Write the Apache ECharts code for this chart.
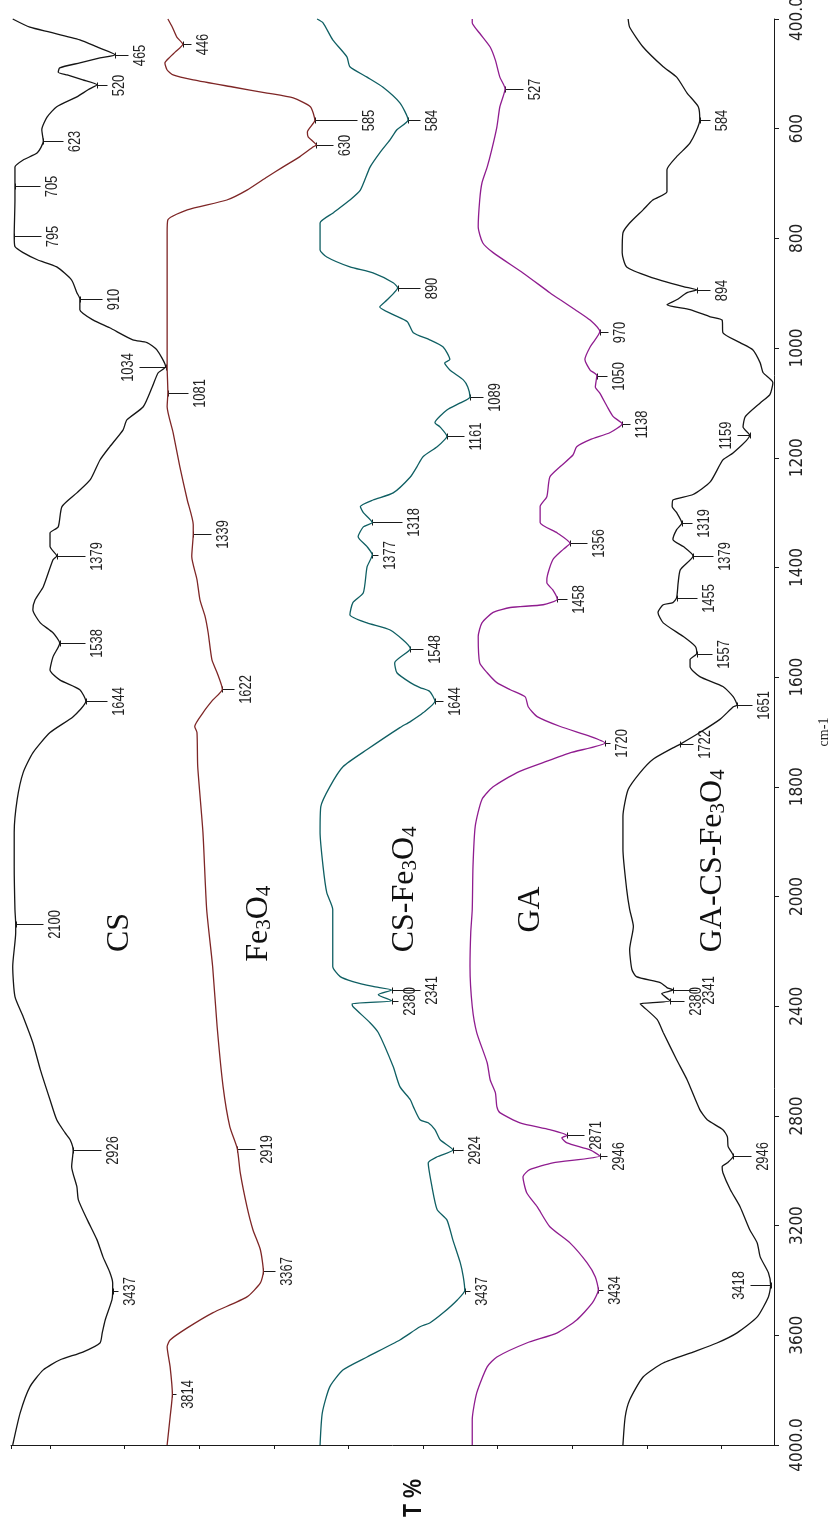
<!DOCTYPE html>
<html>
<head>
<meta charset="utf-8">
<script src="https://cdn.jsdelivr.net/npm/echarts@6/dist/echarts.min.js"></script>
<style>
  html, body { margin: 0; padding: 0; background: #fff; }
  #chart { width: 832px; height: 1524px; }
</style>
</head>
<body>
<div id="chart"></div>
<script>
// FTIR spectra: [wavenumber (cm-1), transmittance (%, stacked offsets)]
const csSpectrum = [[400,105.0],[415,102.7],[424,100.0],[438,96.0],[451,93.7],[465,91.3],[471,93.3],[480,96.0],[489,98.7],[497,98.9],[502,97.7],[511,95.6],[520,93.7],[529,94.9],[542,96.4],[560,99.1],[579,100.4],[602,101.1],[623,100.9],[644,101.7],[657,103.6],[670,104.7],[705,104.7],[730,104.7],[795,104.8],[815,104.7],[826,103.6],[839,101.7],[852,99.1],[876,97.1],[899,96.4],[910,96.0],[930,96.0],[949,94.2],[963,92.0],[985,88.9],[990,87.0],[1003,85.7],[1034,84.5],[1045,85.5],[1071,86.3],[1107,87.5],[1131,89.7],[1149,90.2],[1180,92.0],[1204,93.3],[1240,94.6],[1264,96.4],[1289,98.4],[1326,98.9],[1337,100.0],[1362,100.0],[1379,99.1],[1386,99.6],[1435,100.9],[1459,102.0],[1477,102.3],[1501,101.3],[1519,99.6],[1538,98.7],[1563,99.6],[1587,100.0],[1605,98.7],[1623,96.0],[1644,95.2],[1672,96.9],[1701,100.0],[1738,102.3],[1774,103.6],[1823,104.4],[1883,104.8],[1945,104.8],[2047,104.7],[2100,104.6],[2131,104.6],[2255,105.0],[2365,104.7],[2438,103.6],[2533,102.3],[2631,101.3],[2741,100.0],[2814,99.1],[2861,98.0],[2887,97.3],[2926,96.9],[2985,97.1],[3058,96.4],[3106,96.2],[3179,95.0],[3252,93.7],[3314,92.9],[3369,92.0],[3409,91.6],[3437,91.6],[3471,91.7],[3544,92.6],[3591,93.0],[3628,93.3],[3661,95.6],[3690,98.7],[3726,100.9],[3788,102.7],[3883,104.0],[4000,105.0]];

const fe3o4Spectrum = [[400,84.2],[415,83.6],[433,83.0],[446,82.2],[460,83.2],[469,83.9],[480,84.6],[493,84.3],[502,83.5],[511,80.8],[524,75.5],[535,70.9],[544,67.4],[560,65.1],[585,64.5],[590,64.7],[606,65.5],[615,65.4],[630,64.3],[633,64.7],[651,66.5],[670,68.8],[688,70.9],[712,73.6],[730,76.3],[748,81.6],[766,84.2],[790,84.3],[912,84.3],[972,84.3],[1034,84.3],[1081,84.2],[1107,84.3],[1154,83.5],[1216,82.6],[1277,81.6],[1322,80.8],[1339,80.8],[1380,81.0],[1422,80.3],[1459,79.9],[1490,79.2],[1519,78.8],[1568,78.3],[1592,77.6],[1622,76.9],[1642,78.2],[1665,79.5],[1690,80.6],[1701,80.3],[1763,80.2],[1883,79.5],[2047,79.0],[2255,78.2],[2474,77.6],[2693,76.8],[2839,75.9],[2919,74.9],[3007,74.5],[3131,73.6],[3215,72.8],[3288,71.8],[3367,71.4],[3409,71.8],[3460,73.6],[3518,78.2],[3573,81.6],[3617,83.9],[3642,84.3],[3715,83.9],[3814,83.6],[3898,83.9],[4000,84.3]];

const csFe3o4Spectrum = [[400,64.2],[407,63.4],[438,62.1],[469,60.2],[487,59.8],[506,57.5],[524,55.4],[553,53.1],[584,52.0],[602,53.5],[620,54.4],[644,55.8],[670,57.1],[712,58.4],[730,59.8],[754,62.1],[772,63.8],[821,63.8],[834,62.9],[852,59.8],[863,56.7],[881,54.0],[890,53.4],[912,54.8],[925,55.8],[939,54.0],[952,52.1],[972,51.3],[985,49.1],[998,47.3],[1021,46.4],[1027,47.1],[1040,46.4],[1058,44.6],[1071,44.0],[1089,43.7],[1100,45.0],[1113,46.8],[1136,48.4],[1144,47.7],[1161,46.8],[1167,47.1],[1180,48.1],[1198,50.0],[1216,50.8],[1235,51.7],[1264,54.0],[1277,56.7],[1289,58.4],[1300,58.0],[1318,56.8],[1326,58.0],[1344,58.7],[1362,57.5],[1377,56.8],[1399,57.5],[1446,58.0],[1464,59.4],[1486,59.8],[1501,57.5],[1514,54.4],[1548,51.7],[1574,53.8],[1592,53.5],[1610,51.7],[1619,50.4],[1626,49.1],[1644,48.4],[1665,50.0],[1681,51.7],[1692,53.1],[1732,57.5],[1763,60.7],[1800,62.5],[1836,63.7],[1883,63.8],[1945,63.4],[1993,62.9],[2047,62.1],[2131,62.1],[2255,62.1],[2292,61.1],[2310,59.4],[2328,56.7],[2341,54.2],[2358,56.0],[2380,54.2],[2391,59.5],[2401,59.4],[2460,57.1],[2496,56.0],[2620,54.0],[2693,53.1],[2741,51.7],[2766,51.3],[2814,50.4],[2825,49.3],[2850,48.4],[2887,47.7],[2924,46.0],[2949,48.1],[2971,49.3],[3058,48.8],[3142,48.1],[3179,46.8],[3252,46.0],[3336,45.0],[3387,44.6],[3437,44.4],[3471,45.4],[3518,47.3],[3555,49.1],[3569,50.4],[3617,53.1],[3679,57.5],[3726,60.7],[3788,62.5],[3883,63.5],[4000,63.8]];

const gaSpectrum = [[400,43.4],[407,43.4],[426,42.4],[451,41.0],[475,40.3],[506,39.7],[527,39.0],[560,39.7],[597,40.1],[639,40.8],[670,41.4],[699,42.1],[730,42.4],[779,42.6],[808,42.0],[826,40.6],[863,36.6],[899,33.0],[912,31.6],[930,29.6],[949,27.6],[970,26.3],[998,27.6],[1021,28.3],[1040,27.6],[1050,26.7],[1071,26.9],[1082,26.3],[1107,25.3],[1125,24.5],[1138,23.3],[1154,24.9],[1167,27.6],[1180,29.4],[1195,29.9],[1216,31.6],[1235,33.0],[1271,33.4],[1289,34.3],[1318,34.3],[1337,32.0],[1356,30.3],[1367,31.2],[1386,32.6],[1422,33.4],[1428,33.4],[1441,32.6],[1458,32.0],[1468,33.9],[1473,38.3],[1482,40.6],[1501,42.1],[1526,42.6],[1574,42.4],[1592,41.4],[1610,40.1],[1623,38.3],[1636,36.3],[1654,35.9],[1672,34.7],[1690,31.6],[1708,27.6],[1720,25.6],[1738,30.3],[1756,33.9],[1774,37.4],[1800,40.6],[1823,42.1],[1872,43.0],[1945,43.3],[2047,43.4],[2131,43.6],[2255,43.7],[2401,43.4],[2496,42.8],[2606,41.4],[2668,41.0],[2715,40.3],[2766,40.1],[2788,39.7],[2825,37.0],[2850,33.0],[2871,30.7],[2880,31.4],[2898,30.7],[2924,27.6],[2946,26.3],[2971,32.6],[2996,35.7],[3022,36.6],[3080,36.1],[3131,34.7],[3204,33.0],[3263,30.3],[3336,28.0],[3387,26.9],[3434,26.5],[3482,27.3],[3544,29.4],[3591,32.0],[3628,36.1],[3679,40.1],[3715,41.4],[3810,42.8],[3908,43.4],[4000,43.4]];

const gaCsFe3o4Spectrum = [[400,22.5],[415,22.3],[451,20.5],[487,17.8],[506,16.0],[535,14.6],[560,13.1],[584,12.9],[626,14.2],[651,16.0],[675,17.3],[715,17.3],[730,19.2],[748,20.5],[772,22.3],[790,23.2],[826,23.3],[852,22.7],[870,19.6],[888,15.1],[894,13.3],[899,14.6],[912,16.0],[921,17.3],[930,14.2],[943,11.5],[949,9.9],[972,9.8],[990,7.5],[1003,5.8],[1027,4.8],[1045,4.4],[1063,3.1],[1085,3.5],[1100,4.8],[1125,6.8],[1144,7.1],[1159,6.2],[1191,8.4],[1204,9.8],[1244,11.5],[1267,13.8],[1277,16.5],[1289,16.6],[1300,16.0],[1319,15.3],[1331,16.0],[1349,16.5],[1362,15.1],[1379,13.8],[1404,15.5],[1428,15.8],[1455,16.0],[1464,16.5],[1468,17.8],[1482,18.5],[1501,17.8],[1526,15.1],[1544,13.5],[1557,13.3],[1568,14.2],[1581,14.2],[1599,12.9],[1617,9.8],[1636,8.4],[1651,7.9],[1654,8.4],[1677,10.2],[1701,12.9],[1722,15.5],[1729,16.5],[1750,19.2],[1774,20.9],[1805,22.5],[1854,23.2],[1914,23.2],[1987,22.7],[2047,22.3],[2109,21.8],[2193,22.3],[2266,22.0],[2292,21.4],[2314,18.2],[2332,17.3],[2341,16.5],[2354,18.0],[2380,16.9],[2391,20.9],[2401,20.5],[2449,18.6],[2496,17.8],[2595,16.0],[2668,14.6],[2777,12.9],[2814,11.9],[2850,9.8],[2876,9.2],[2912,9.1],[2946,8.4],[2971,9.2],[2985,9.9],[3007,9.8],[3069,8.8],[3131,7.5],[3215,6.2],[3263,5.2],[3314,4.8],[3372,3.7],[3418,3.4],[3460,3.7],[3533,5.2],[3591,7.9],[3628,10.6],[3661,13.8],[3701,17.8],[3752,20.5],[3836,22.3],[3898,22.9],[4000,23.2]];

// Annotated band positions (cm-1)
const csPeaks = [465, 520, 623, 705, 795, 910, 1034, 1379, 1538, 1644, 2100, 2926, 3437];
const fe3o4Peaks = [446, 585, 630, 1081, 1339, 1622, 2919, 3367, 3814];
const csFe3o4Peaks = [584, 890, 1089, 1161, 1318, 1377, 1548, 1644, 2341, 2380, 2924, 3437];
const gaPeaks = [527, 970, 1050, 1138, 1356, 1458, 1720, 2871, 2946, 3434];
const gaCsFe3o4Peaks = [584, 894, 1159, 1319, 1379, 1455, 1557, 1651, 1722, 2341, 2380, 2946, 3418];

// Wavenumber axis tick labels (cm-1)
const wavenumberTicks = [400, 600, 800, 1000, 1200, 1400, 1600, 1800, 2000, 2400, 2800, 3200, 3600, 4000];
// Transmittance axis tick marks (unlabelled)
const transmittanceTicks = [10, 20, 30, 40, 50, 60, 70, 80, 90, 100];

// ---- layout / style settings ----
const T_MIN = 2.95, T_MAX = 105.23;

// The region above 2000 cm-1 is drawn at half scale.
const toAxis = w => (w <= 2000 ? w : 2000 + (w - 2000) / 2);
const fromAxis = u => (u <= 2000 ? u : 2000 + (u - 2000) * 2);

const samples = [
  { key: 'cs',     data: csSpectrum,        peaks: csPeaks,        color: '#151515' },
  { key: 'fe',     data: fe3o4Spectrum,     peaks: fe3o4Peaks,     color: '#7e2626' },
  { key: 'csfe',   data: csFe3o4Spectrum,   peaks: csFe3o4Peaks,   color: '#0f5f63' },
  { key: 'ga',     data: gaSpectrum,        peaks: gaPeaks,        color: '#8f1c8f' },
  { key: 'gacsfe', data: gaCsFe3o4Spectrum, peaks: gaCsFe3o4Peaks, color: '#151515' }
];

// Leader length in px for each band label (negative: label on the left side)
const leaderLen = {
  cs:     {465: 13, 520: 10, 623: 20, 705: 25, 795: 27, 910: 22, 1034: -27, 1379: 28, 1538: 25, 1644: 21, 2100: 27, 2926: 28, 3437: 5},
  fe:     {446: 8, 585: 42, 630: 17, 1081: 20, 1339: 18, 1622: 12, 2919: 18, 3367: 12, 3814: 4},
  csfe:   {584: 12, 890: 22, 1089: 13, 1161: 17, 1318: 30, 1377: 6, 1548: 13, 1644: 8, 2341: 28, 2380: 6, 2924: 10, 3437: 5},
  ga:     {527: 18, 970: 8, 1050: 10, 1138: 8, 1356: 17, 1458: 10, 1720: 5, 2871: 17, 2946: 7, 3434: 5},
  gacsfe: {584: 10, 894: 13, 1159: -13, 1319: 10, 1379: 20, 1455: 20, 1557: 15, 1651: 15, 1722: 13, 2341: 24, 2380: 14, 2946: 18, 3418: -21}
};

// Sample names, anchored at [transmittance, wavenumber]
const nameLabels = [
  { text: '{n|CS}', at: [91.0, 2131] },
  { text: '{n|Fe}{s|3}{n|O}{s|4}', at: [72.3, 2099] },
  { text: '{n|CS-Fe}{s|3}{n|O}{s|4}', at: [52.7, 1987] },
  { text: '{n|GA}', at: [35.8, 2047] },
  { text: '{n|GA-CS-Fe}{s|3}{n|O}{s|4}', at: [11.4, 1935] }
];

function transmittanceAt(spec, w) {
  for (let i = 1; i < spec.length; i++) {
    const [w0, t0] = spec[i - 1], [w1, t1] = spec[i];
    if (w >= w0 && w <= w1) {
      return w1 === w0 ? t0 : t0 + (t1 - t0) * (w - w0) / (w1 - w0);
    }
  }
  return spec[spec.length - 1][1];
}

const markers = [];
samples.forEach(s => {
  s.peaks.forEach(wn => {
    markers.push({ wn, t: transmittanceAt(s.data, wn), len: (leaderLen[s.key] || {})[wn] || 12 });
  });
});

const labelFont = '"Liberation Sans", Arial, sans-serif';
const axisFont = '"Liberation Sans Narrow", "DejaVu Sans Condensed", "Liberation Sans", sans-serif';

const chart = echarts.init(document.getElementById('chart'));

const option = {
  backgroundColor: '#ffffff',
  animation: false,
  grid: { left: 11, right: 58, top: 19, bottom: 79, containLabel: false, outerBoundsMode: 'none' },
  xAxis: {
    type: 'value',
    inverse: true,
    min: T_MIN,
    max: T_MAX,
    axisLine: { show: true, onZero: false, lineStyle: { color: '#1a1a1a', width: 1 } },
    axisTick: { show: true, length: 4, inside: false, customValues: [T_MAX].concat(transmittanceTicks), lineStyle: { color: '#1a1a1a' } },
    axisLabel: { show: false },
    splitLine: { show: false }
  },
  yAxis: {
    type: 'value',
    position: 'right',
    inverse: true,
    min: toAxis(400),
    max: toAxis(4000),
    interval: 200,
    name: 'cm-1',
    nameLocation: 'middle',
    nameRotate: 90,
    nameGap: 43,
    nameTextStyle: { fontFamily: '"Liberation Serif", serif', fontSize: 14, color: '#222' },
    axisLine: { show: true, onZero: false, lineStyle: { color: '#1a1a1a', width: 1 } },
    axisTick: { show: true, length: 5, inside: false, customValues: wavenumberTicks.map(toAxis), lineStyle: { color: '#1a1a1a' } },
    axisLabel: {
      show: true,
      rotate: 90,
      margin: 15,
      customValues: wavenumberTicks.map(toAxis),
      fontFamily: axisFont,
      fontSize: 17,
      color: '#222',
      formatter: u => {
        const w = Math.round(fromAxis(u));
        return (w === 400 || w === 4000) ? w.toFixed(1) : String(w);
      }
    },
    splitLine: { show: false }
  },
  series: samples.map(s => ({
    type: 'line',
    name: s.key,
    data: s.data.map(([w, t]) => [t, toAxis(w)]),
    symbol: 'none',
    smooth: 0.2,
    silent: true,
    clip: false,
    lineStyle: { color: s.color, width: 1.3 }
  })).concat([{
    type: 'custom',
    name: 'bands',
    coordinateSystem: 'cartesian2d',
    silent: true,
    clip: false,
    data: markers.map(m => [m.t, toAxis(m.wn)]),
    renderItem: (params, api) => {
      const m = markers[params.dataIndex];
      const p = api.coord([api.value(0), api.value(1)]);
      const dir = m.len < 0 ? -1 : 1;
      const x0 = Math.round(p[0]) + 0.5, y0 = Math.round(p[1]) + 0.5;
      const x1 = x0 + m.len;
      return {
        type: 'group',
        children: [
          { type: 'line', shape: { x1: x0, y1: y0 - 3, x2: x0, y2: y0 + 3 }, style: { stroke: '#1a1a1a', lineWidth: 1 } },
          { type: 'line', shape: { x1: x0, y1: y0, x2: x1, y2: y0 }, style: { stroke: '#1a1a1a', lineWidth: 1 } },
          {
            type: 'text',
            x: x1 + dir * 3,
            y: y0,
            rotation: Math.PI / 2,
            scaleX: 0.76,
            style: {
              text: String(m.wn),
              fontFamily: labelFont,
              fontSize: 17,
              fill: '#222',
              align: 'center',
              verticalAlign: dir > 0 ? 'top' : 'bottom'
            }
          }
        ]
      };
    }
  }])
};

chart.setOption(option);

// Sample names and the transmittance axis title
const graphics = nameLabels.map(l => {
  const p = chart.convertToPixel({ gridIndex: 0 }, [l.at[0], toAxis(l.at[1])]);
  return {
    type: 'text',
    x: p[0],
    y: p[1],
    rotation: Math.PI / 2,
    silent: true,
    style: {
      text: l.text,
      align: 'center',
      verticalAlign: 'middle',
      fill: '#111',
      rich: {
        n: { fontFamily: '"Liberation Serif", "Times New Roman", serif', fontSize: 32, lineHeight: 36, verticalAlign: 'bottom' },
        s: { fontFamily: '"Liberation Serif", "Times New Roman", serif', fontSize: 21, lineHeight: 14, verticalAlign: 'bottom' }
      }
    }
  };
});
graphics.push({
  type: 'text',
  x: 414,
  y: 1498,
  rotation: Math.PI / 2,
  scaleX: 0.82,
  silent: true,
  style: {
    text: 'T %',
    font: 'bold 26px "Liberation Sans", Arial, sans-serif',
    fill: '#111',
    align: 'center',
    verticalAlign: 'middle'
  }
});
chart.setOption({ graphic: graphics });
</script>
</body>
</html>
